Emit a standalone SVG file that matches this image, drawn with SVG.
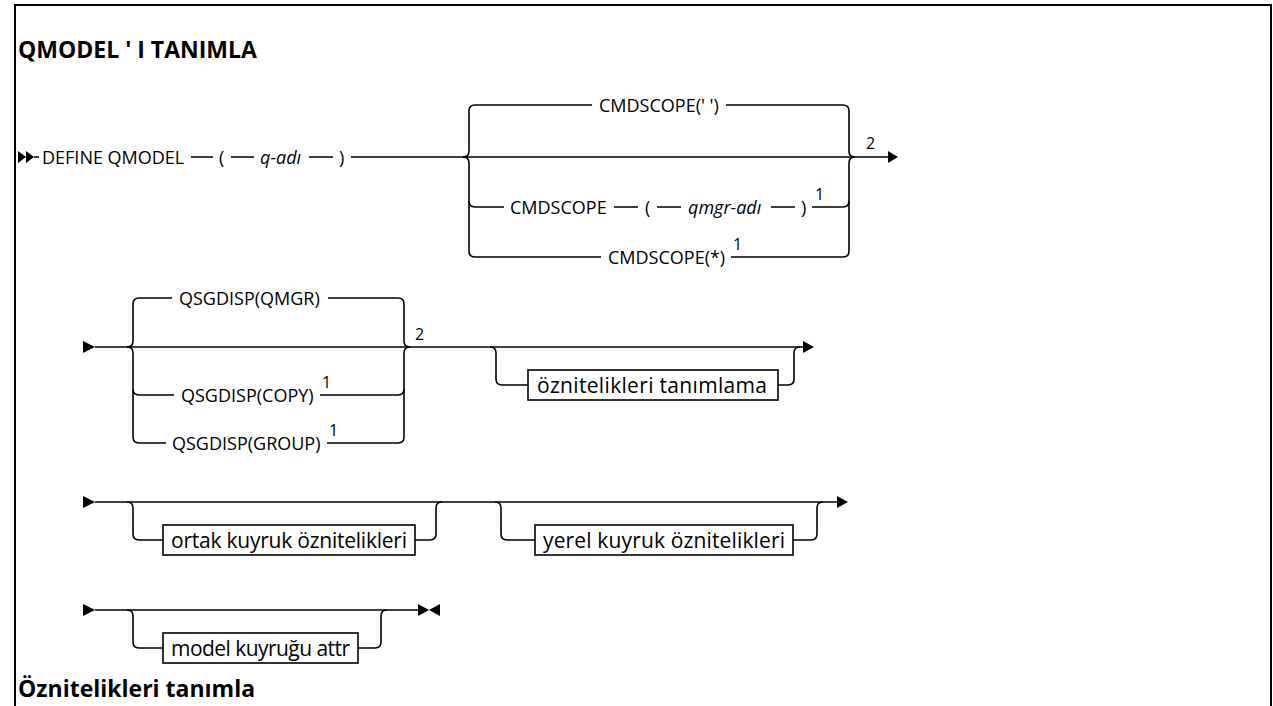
<svg xmlns="http://www.w3.org/2000/svg" width="1273" height="706" viewBox="0 0 1273 706">
<style>
.t{font-family:"Open Sans","Liberation Sans",sans-serif;font-size:18px;fill:#000}
.i{font-style:italic}
.x{font-family:"Open Sans","Liberation Sans",sans-serif;font-size:21px;fill:#000}
.h{font-family:"Open Sans","Liberation Sans",sans-serif;font-size:23px;font-weight:bold;fill:#000}
.s{font-family:"Open Sans","Liberation Sans",sans-serif;font-size:16px;fill:#000}
.c{fill:none;stroke:#000;stroke-width:1.6}
.b{fill:#fff;stroke:#000;stroke-width:1.6}
.m{fill:#000;stroke:none}
</style>
<rect width="1273" height="706" fill="#fff"/>
<path d="M15,706 V5 H1271 V706" fill="none" stroke="#000" stroke-width="2"/>
<g id="title"><text class="h" x="18" y="58">QMODEL ' I TANIMLA</text></g>
<g id="connectors">
<polygon class="m" points="18,151 26,157 18,163"/>
<polygon class="m" points="26,151 34,157 26,163"/>
<path class="c" d="M34,157 H39 M191,157 H213 M231,157 H254 M309,157 H333 M351,157 H889"/>
<path class="c" d="M463,157 Q469,157 469,151 V111 Q469,105 475,105 H592 M726,105 H843 Q849,105 849,111 V151 Q849,157 855,157"/>
<path class="c" d="M463,157 Q469,157 469,163 V251 Q469,257 475,257 H601 M731,257 H843 Q849,257 849,251 V163 Q849,157 855,157"/>
<path class="c" d="M469,201 Q469,207 475,207 H504 M614,207 H638 M657,207 H681 M771,207 H795 M812,207 H843 Q849,207 849,201"/>
<polygon class="m" points="888,151 898,157 888,163"/>
<polygon class="m" points="83,341 95,347 83,353"/>
<path class="c" d="M95,347 H803"/>
<path class="c" d="M127,347 Q133,347 133,341 V304 Q133,298 139,298 H172 M328,298 H398 Q404,298 404,304 V341 Q404,347 410,347"/>
<path class="c" d="M127,347 Q133,347 133,353 V437 Q133,443 139,443 H166 M327,443 H398 Q404,443 404,437 V353 Q404,347 410,347"/>
<path class="c" d="M133,389 Q133,395 139,395 H174 M320,395 H398 Q404,395 404,389"/>
<path class="c" d="M490,347 Q496,347 496,353 V379 Q496,385 502,385 H528 M778,385 H788 Q794,385 794,379 V353 Q794,347 800,347"/>
<polygon class="m" points="803,341 814,347 803,353"/>
<polygon class="m" points="83,496 95,502 83,508"/>
<path class="c" d="M95,502 H837"/>
<path class="c" d="M127,502 Q133,502 133,508 V534 Q133,540 139,540 H163 M415,540 H430 Q436,540 436,534 V508 Q436,502 442,502"/>
<path class="c" d="M495,502 Q501,502 501,508 V534 Q501,540 507,540 H535 M793,540 H811 Q817,540 817,534 V508 Q817,502 823,502"/>
<polygon class="m" points="837,496 848,502 837,508"/>
<polygon class="m" points="83,604 95,610 83,616"/>
<path class="c" d="M95,610 H418"/>
<path class="c" d="M127,610 Q133,610 133,616 V642 Q133,648 139,648 H163 M358,648 H375 Q381,648 381,642 V616 Q381,610 387,610"/>
<polygon class="m" points="418,604 429,610 418,616"/>
<polygon class="m" points="440,604 429,610 440,616"/>
</g>
<g id="define"><text class="t" x="42" y="163.5">DEFINE QMODEL</text></g>
<g id="lp1"><text class="t" x="219" y="163.5">(</text></g>
<g id="qadi"><text class="t i" x="260" y="163.5">q-adı</text></g>
<g id="rp1"><text class="t" x="339" y="163.5">)</text></g>
<g id="cmdscope-blank"><text class="t" x="599" y="111.5">CMDSCOPE(' ')</text></g>
<g id="cmdscope-qmgr"><text class="t" x="510" y="213.5">CMDSCOPE</text><text class="t" x="645" y="213.5">(</text><text class="t i" x="688" y="213.5">qmgr-adı</text><text class="t" x="801" y="213.5">)</text><text class="s" x="815" y="200">1</text></g>
<g id="cmdscope-star"><text class="t" x="608" y="263.5">CMDSCOPE(*)</text><text class="s" x="733" y="250">1</text></g>
<g id="note2a"><text class="s" x="866" y="149">2</text></g>
<g id="qsg-qmgr"><text class="t" x="179" y="304.5">QSGDISP(QMGR)</text></g>
<g id="qsg-copy"><text class="t" x="181" y="401.5">QSGDISP(COPY)</text><text class="s" x="322" y="388">1</text></g>
<g id="qsg-group"><text class="t" x="172" y="449.5">QSGDISP(GROUP)</text><text class="s" x="329" y="436">1</text></g>
<g id="note2b"><text class="s" x="415" y="340">2</text></g>
<g id="define-attrs"><rect class="b" x="528" y="370" width="250" height="30"/><text class="x" x="537" y="392.5" textLength="230">öznitelikleri tanımlama</text></g>
<g id="common-attrs"><rect class="b" x="163" y="525" width="252" height="30"/><text class="x" x="171" y="547.5" textLength="236">ortak kuyruk öznitelikleri</text></g>
<g id="local-attrs"><rect class="b" x="535" y="525" width="258" height="30"/><text class="x" x="543" y="547.5" textLength="242">yerel kuyruk öznitelikleri</text></g>
<g id="model-attrs"><rect class="b" x="163" y="633" width="195" height="30"/><text class="x" x="171" y="655.5" textLength="179">model kuyruğu attr</text></g>
<g id="subtitle"><text class="h" x="18" y="697">Öznitelikleri tanımla</text></g>
</svg>
